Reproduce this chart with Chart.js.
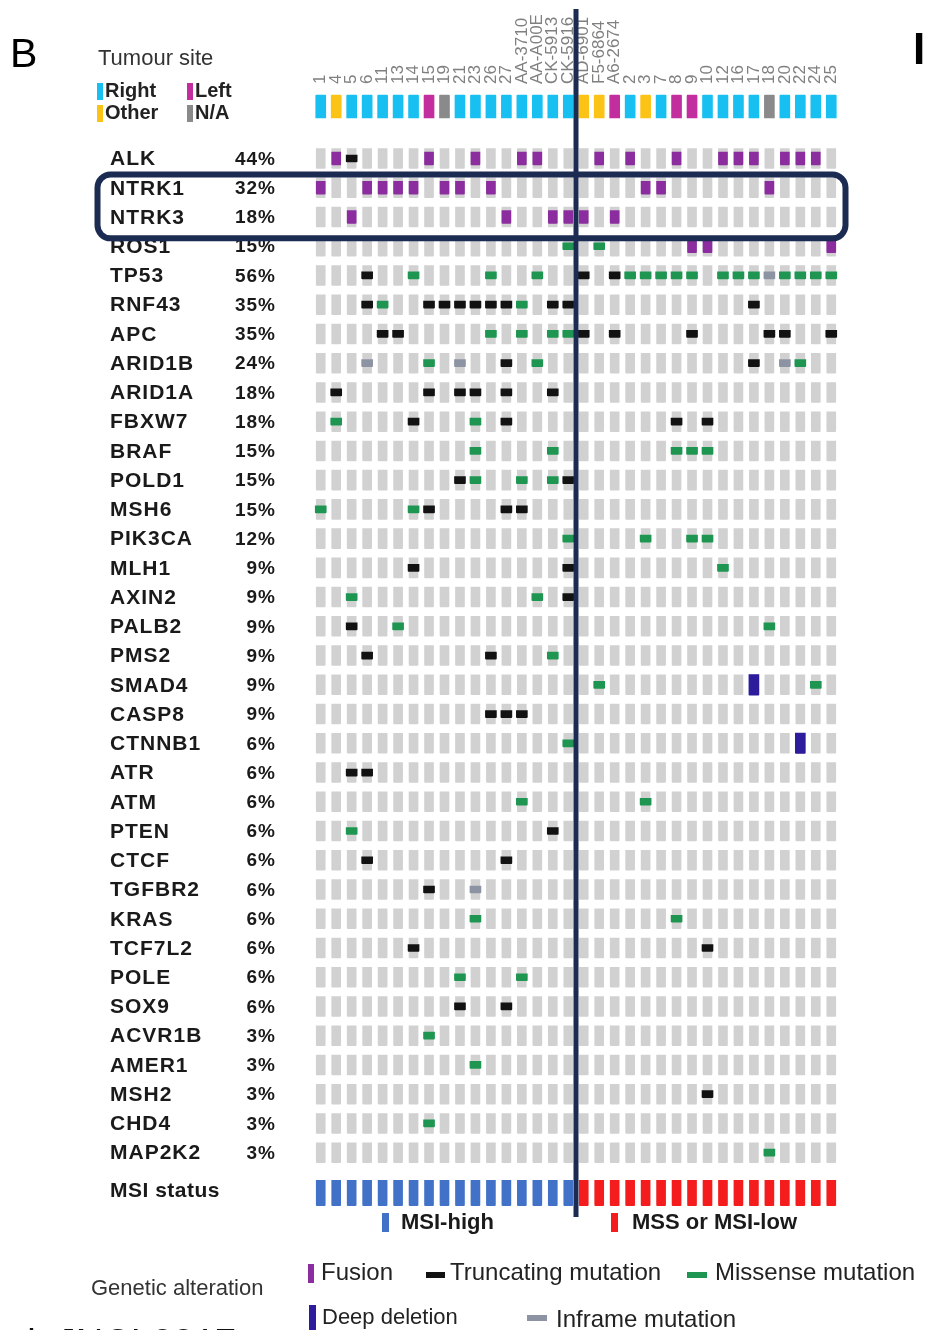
<!DOCTYPE html>
<html>
<head>
<meta charset="utf-8">
<script src="https://cdn.jsdelivr.net/npm/chart.js@4.4.1/dist/chart.umd.min.js"></script>
<style>
  html, body { margin: 0; padding: 0; background: #fff; }
  canvas { display: block; }
</style>
</head>
<body>
<canvas id="oncoprint" width="927" height="1330"></canvas>
<script>
// samples (columns), left of the line = MSI-high, right = MSS / MSI-low
const samples = ['1', '4', '5', '6', '11', '13', '14', '15', '19', '21', '23', '26', '27',
  'AA-3710', 'AA-A00E', 'CK-5913', 'CK-5916',
  'AD-6901', 'F5-6864', 'A6-2674', '2', '3', '7', '8', '9', '10', '12', '16', '17', '18', '20', '22', '24', '25'];

// R = right, L = left, O = other, N = N/A
const tumourSite = [...'RORRRRRLNRRRRRRRR' + 'OOLRORLLRRRRNRRRR'];
// H = MSI-high, L = MSS or MSI-low
const msiStatus = [...'HHHHHHHHHHHHHHHHH' + 'LLLLLLLLLLLLLLLLL'];

const genes = ['ALK', 'NTRK1', 'NTRK3', 'ROS1', 'TP53', 'RNF43', 'APC', 'ARID1B', 'ARID1A', 'FBXW7',
  'BRAF', 'POLD1', 'MSH6', 'PIK3CA', 'MLH1', 'AXIN2', 'PALB2', 'PMS2', 'SMAD4', 'CASP8', 'CTNNB1',
  'ATR', 'ATM', 'PTEN', 'CTCF', 'TGFBR2', 'KRAS', 'TCF7L2', 'POLE', 'SOX9', 'ACVR1B', 'AMER1',
  'MSH2', 'CHD4', 'MAP2K2'];
const genePct = ['44%', '32%', '18%', '15%', '56%', '35%', '35%', '24%', '18%', '18%',
  '15%', '15%', '15%', '12%', '9%', '9%', '9%', '9%', '9%', '9%', '6%',
  '6%', '6%', '6%', '6%', '6%', '6%', '6%', '6%', '6%', '3%', '3%',
  '3%', '3%', '3%'];

// F fusion, T truncating, M missense, I inframe, D deep deletion, . none
// written as 17 MSI-high columns + 17 MSS columns
const alterations = [
  '.FT....F..F..FF..' + '.F.F..F..FFF.FFF.', // ALK
  'F..FFFF.FF.F.....' + '....FF......F....', // NTRK1
  '..F.........F..FF' + 'F.F..............', // NTRK3
  '................M' + '.M.....FF.......F', // ROS1
  '...T..M....M..M..' + 'T.TMMMMM.MMMIMMMM', // TP53
  '...TM..TTTTTTM.TT' + '...........T.....', // RNF43
  '....TT.....M.M.MM' + 'T.T....T....TT..T', // APC
  '...I...M.I..T.M..' + '...........T.IM..', // ARID1B
  '.T.....T.TT.T..T.' + '.................', // ARID1A
  '.M....T...M.T....' + '......T.T........', // FBXW7
  '..........M....M.' + '......MMM........', // BRAF
  '.........TM..M.MT' + '.................', // POLD1
  'M.....MT....TT...' + '.................', // MSH6
  '................M' + '....M..MM........', // PIK3CA
  '......T.........T' + '.........M.......', // MLH1
  '..M...........M.T' + '.................', // AXIN2
  '..T..M...........' + '............M....', // PALB2
  '...T.......T...M.' + '.................', // PMS2
  '.................' + '.M.........D...M.', // SMAD4
  '...........TTT...' + '.................', // CASP8
  '................M' + '..............D..', // CTNNB1
  '..TT.............' + '.................', // ATR
  '.............M...' + '....M............', // ATM
  '..M............T.' + '.................', // PTEN
  '...T........T....' + '.................', // CTCF
  '.......T..I......' + '.................', // TGFBR2
  '..........M......' + '......M..........', // KRAS
  '......T..........' + '........T........', // TCF7L2
  '.........M...M...' + '.................', // POLE
  '.........T..T....' + '.................', // SOX9
  '.......M.........' + '.................', // ACVR1B
  '..........M......' + '.................', // AMER1
  '.................' + '........T........', // MSH2
  '.......M.........' + '.................', // CHD4
  '.................' + '............M....'  // MAP2K2
];

// track positions on the row axis (gene rows are 0..34)
const SITE_ROW = -1.78;
const MSI_ROW = 35.38;

const siteColors = { R: '#17c0f0', L: '#c22e9e', O: '#fbc316', N: '#8a8a8a' };
const msiColors = { H: '#4272c8', L: '#f41c1c' };
const FUSION = '#8b2c9f', TRUNC = '#121212', MISSENSE = '#1e9651', INFRAME = '#8c93a3', DEEPDEL = '#2d1d9c', CELL = '#d1d1d1';

function marks(code, half) {
  const out = [];
  alterations.forEach((row, g) => {
    [...row].forEach((c, s) => {
      if (code === null || c === code) out.push({ x: samples[s], y: [g - half, g + half] });
    });
  });
  return out;
}

const bar = (label, data, color, thickness, order) => ({
  label, data, backgroundColor: color, barThickness: thickness, grouped: false,
  borderWidth: 0, borderRadius: 1, order
});

const datasets = [
  bar('Fusion', marks('F', 0.22), FUSION, 9, 1),
  bar('Truncating mutation', marks('T', 0.12), TRUNC, 11, 1),
  bar('Missense mutation', marks('M', 0.12), MISSENSE, 11, 1),
  bar('Inframe mutation', marks('I', 0.12), INFRAME, 11, 1),
  bar('Deep deletion', marks('D', 0.35), DEEPDEL, 10, 1),
  bar('Tumour site', samples.map((s) => ({ x: s, y: [SITE_ROW - 0.39, SITE_ROW + 0.39] })),
    tumourSite.map((c) => siteColors[c]), 10, 2),
  bar('MSI status', samples.map((s) => ({ x: s, y: [MSI_ROW - 0.43, MSI_ROW + 0.43] })),
    msiStatus.map((c) => msiColors[c]), 9, 2),
  bar('none', marks(null, 0.34), CELL, 9, 5)
];

const FONT = '"Liberation Sans", Arial, sans-serif';

function text(ctx, str, x, y, font, color, align, spacing) {
  ctx.font = font;
  ctx.fillStyle = color;
  ctx.textAlign = align || 'left';
  ctx.textBaseline = 'middle';
  ctx.letterSpacing = spacing || '0px';
  ctx.fillText(str, x, y);
  ctx.letterSpacing = '0px';
}

const decorations = {
  id: 'decorations',
  afterDraw(chart) {
    const { ctx, scales: { x, y } } = chart;
    ctx.save();

    // panel letters
    text(ctx, 'B', 10, 56, '41px ' + FONT, '#000');
    text(ctx, 'I', 913, 52, 'bold 44px ' + FONT, '#000');
    text(ctx, 'al. JNCI 2017', 6, 1346, '38px ' + FONT, '#111');

    // sample ids, rotated
    ctx.font = '17px ' + FONT;
    ctx.fillStyle = '#808080';
    ctx.textAlign = 'left';
    ctx.textBaseline = 'middle';
    samples.forEach((s, i) => {
      ctx.save();
      ctx.translate(x.getPixelForValue(i), 84);
      ctx.rotate(-Math.PI / 2);
      ctx.fillText(s, 0, 0);
      ctx.restore();
    });

    // tumour site legend
    text(ctx, 'Tumour site', 98, 59, '22px ' + FONT, '#333');
    const siteLegend = [['Right', 'R', 97, 91], ['Left', 'L', 187, 91], ['Other', 'O', 97, 113], ['N/A', 'N', 187, 113]];
    siteLegend.forEach(([lab, c, lx, ly]) => {
      ctx.fillStyle = siteColors[c];
      ctx.fillRect(lx, ly - 8, 6, 17);
      text(ctx, lab, lx + 8, ly, 'bold 20px ' + FONT, '#222');
    });

    // gene names and frequencies
    genes.forEach((g, i) => {
      const py = y.getPixelForValue(i) + 1;
      text(ctx, g, 110, py, 'bold 21px ' + FONT, '#1a1a1a', 'left', '1px');
      text(ctx, genePct[i], 276, py, 'bold 19px ' + FONT, '#1a1a1a', 'right', '1px');
    });
    text(ctx, 'MSI status', 110, y.getPixelForValue(MSI_ROW) - 2, 'bold 21px ' + FONT, '#1a1a1a', 'left', '0.5px');

    // highlight box around NTRK rows
    ctx.strokeStyle = '#1c2b52';
    ctx.lineWidth = 6;
    ctx.beginPath();
    ctx.roundRect(97.5, y.getPixelForValue(0.55), 748, y.getPixelForValue(2.73) - y.getPixelForValue(0.55), 13);
    ctx.stroke();

    // MSI split line
    const lx = (x.getPixelForValue(16) + x.getPixelForValue(17)) / 2;
    ctx.lineWidth = 5;
    ctx.beginPath();
    ctx.moveTo(lx, 9);
    ctx.lineTo(lx, 1217);
    ctx.stroke();

    // MSI legend
    ctx.fillStyle = msiColors.H;
    ctx.fillRect(382, 1213, 7, 19);
    text(ctx, 'MSI-high', 401, 1223, 'bold 22px ' + FONT, '#1a1a1a');
    ctx.fillStyle = msiColors.L;
    ctx.fillRect(611, 1213, 7, 19);
    text(ctx, 'MSS or MSI-low', 632, 1223, 'bold 22px ' + FONT, '#1a1a1a');

    // genetic alteration legend
    text(ctx, 'Genetic alteration', 91, 1289, '22px ' + FONT, '#333');
    ctx.fillStyle = FUSION; ctx.fillRect(308, 1264, 6, 19);
    text(ctx, 'Fusion', 321, 1273, '24px ' + FONT, '#222');
    ctx.fillStyle = TRUNC; ctx.fillRect(426, 1272, 19, 6);
    text(ctx, 'Truncating mutation', 450, 1273, '24px ' + FONT, '#222');
    ctx.fillStyle = MISSENSE; ctx.fillRect(687, 1272, 20, 6);
    text(ctx, 'Missense mutation', 715, 1273, '24px ' + FONT, '#222');
    ctx.fillStyle = DEEPDEL; ctx.fillRect(309, 1305, 7, 25);
    text(ctx, 'Deep deletion', 322, 1318, '22px ' + FONT, '#222');
    ctx.fillStyle = INFRAME; ctx.fillRect(527, 1315, 20, 6);
    text(ctx, 'Inframe mutation', 556, 1320, '24px ' + FONT, '#222');

    ctx.restore();
  }
};

new Chart(document.getElementById('oncoprint').getContext('2d'), {
  type: 'bar',
  data: { labels: samples, datasets },
  options: {
    responsive: false,
    animation: false,
    events: [],
    layout: { padding: { left: 313, right: 88, top: 70.78, bottom: 89.62 } },
    plugins: { legend: { display: false }, tooltip: { enabled: false } },
    scales: {
      x: { type: 'category', offset: true, display: false },
      y: { type: 'linear', min: -3, max: 37, reverse: true, display: false }
    }
  },
  plugins: [decorations]
});
</script>
</body>
</html>
